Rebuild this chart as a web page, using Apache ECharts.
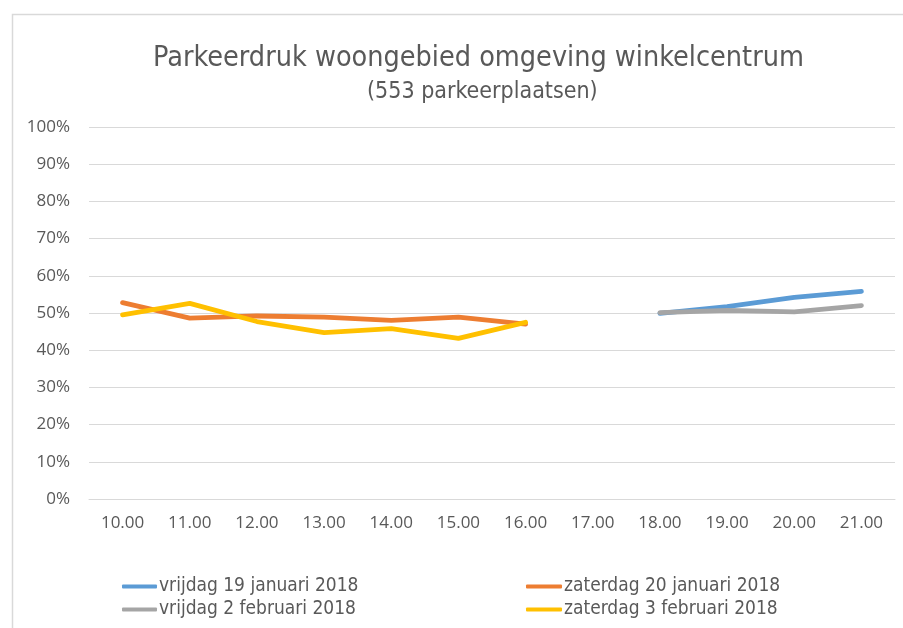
<!DOCTYPE html>
<html><head><meta charset="utf-8">
<script src="https://cdn.jsdelivr.net/npm/echarts@6/dist/echarts.min.js"></script>
<style>html,body{margin:0;padding:0;background:#fff}#c{width:903px;height:628px}</style>
</head><body><div id="c"></div>
<script>
var categories = ['10.00','11.00','12.00','13.00','14.00','15.00','16.00','17.00','18.00','19.00','20.00','21.00'];
var vrijdag19jan = [null,null,null,null,null,null,null,null,49.9,51.7,54.2,55.8];
var zaterdag20jan = [52.8,48.6,49.2,48.9,48.0,48.9,47.0,null,null,null,null,null];
var vrijdag2feb = [null,null,null,null,null,null,null,null,50.1,50.7,50.3,52.0];
var zaterdag3feb = [49.5,52.6,47.7,44.7,45.8,43.2,47.5,null,null,null,null,null];
var yTicks = [0,10,20,30,40,50,60,70,80,90,100];

var chart = echarts.init(document.getElementById('c'));
var textCol = '#595959';
function ser(name, data, color){
  return {name:name, type:'line', data:data, showSymbol:false, symbol:'none', connectNulls:false,
    lineStyle:{color:color, width:4.8, cap:'round', join:'round'}, itemStyle:{color:color}};
}
var font = '"DejaVu Sans Condensed","DejaVu Sans",sans-serif';
var lfont = '"Open Sans",sans-serif';
chart.setOption({
  animation:false,
  title:[{text:'Parkeerdruk woongebied omgeving winkelcentrum', left:148, top:39,
    textStyle:{fontFamily:font, fontSize:28.5, fontWeight:'normal', color:textCol}},
    {text:'(553 parkeerplaatsen)', left:362, top:76,
    textStyle:{fontFamily:font, fontSize:23, fontWeight:'normal', color:textCol}}],
  graphic:[{type:'rect', left:10, top:12, shape:{width:900, height:620}, style:{fill:null, stroke:'#d9d9d9', lineWidth:1.5}, silent:true}],
  legend:[{data:['vrijdag 19 januari 2018','vrijdag 2 februari 2018'], orient:'vertical', left:117, top:572, itemGap:4,
    icon:'roundRect', itemWidth:35, itemHeight:4, textStyle:{fontFamily:font, fontSize:19, color:textCol, padding:[0,0,0,-3]}},
    {data:['zaterdag 20 januari 2018','zaterdag 3 februari 2018'], orient:'vertical', left:521, top:572, itemGap:4,
    icon:'roundRect', itemWidth:36, itemHeight:4, textStyle:{fontFamily:font, fontSize:19, color:textCol, padding:[0,0,0,-3]}}],
  grid:{left:89, right:8, top:127, bottom:129, containLabel:false},
  xAxis:{type:'category', data:categories, boundaryGap:true,
    axisLine:{show:true, lineStyle:{color:'#d9d9d9'}}, axisTick:{show:false},
    axisLabel:{color:textCol, fontSize:17, fontFamily:lfont, margin:16}},
  yAxis:{type:'value', min:0, max:100, interval:10,
    axisLine:{show:false}, axisTick:{show:false},
    splitLine:{lineStyle:{color:'#d9d9d9', width:1}},
    axisLabel:{color:textCol, fontSize:17, fontFamily:lfont, margin:19,
      formatter:function(v){return yTicks.indexOf(v)>=0 ? v+'%' : '';}}},
  series:[ser('vrijdag 19 januari 2018', vrijdag19jan, '#5B9BD5'),
          ser('zaterdag 20 januari 2018', zaterdag20jan, '#ED7D31'),
          ser('vrijdag 2 februari 2018', vrijdag2feb, '#A5A5A5'),
          ser('zaterdag 3 februari 2018', zaterdag3feb, '#FFC000')]
});
</script></body></html>
